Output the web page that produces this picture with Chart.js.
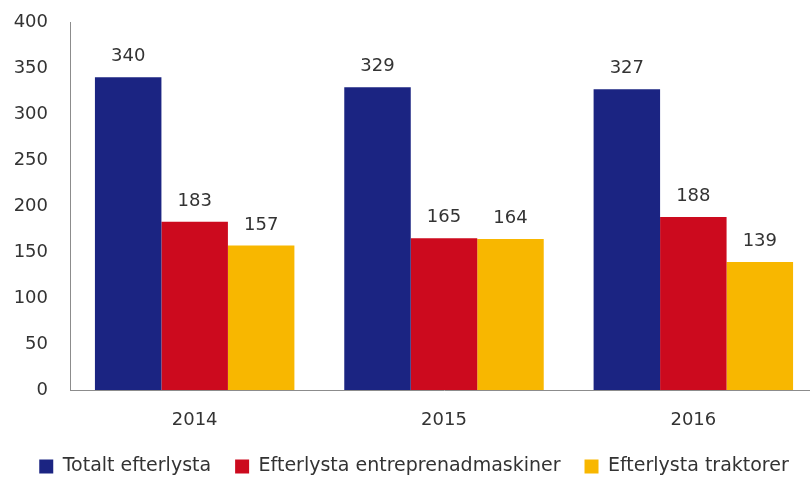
<!DOCTYPE html>
<html>
<head>
<meta charset="utf-8">
<script src="https://cdn.jsdelivr.net/npm/chart.js@4/dist/chart.umd.min.js"></script>
<style>
html,body{margin:0;padding:0;background:#fff;overflow:hidden;width:810px;height:481px;}
canvas{display:block;}
</style>
</head>
<body>
<canvas id="c" width="830" height="481"></canvas>
<script>
const categories = ["2014", "2015", "2016"];
const seriesNames = ["Totalt efterlysta", "Efterlysta entreprenadmaskiner", "Efterlysta traktorer"];
const totalt = [340, 329, 327];
const entreprenad = [183, 165, 188];
const traktorer = [157, 164, 139];
const yTicks = [0, 50, 100, 150, 200, 250, 300, 350, 400];
const colors = ["#1b2482", "#cc0a1e", "#f8b700"];

const FONT = "'DejaVu Sans', Verdana, sans-serif";

const valueLabels = {
  id: 'valueLabels',
  afterDatasetsDraw(chart) {
    const ctx = chart.ctx;
    ctx.save();
    ctx.font = "18px " + FONT;
    ctx.fillStyle = "#333";
    ctx.textAlign = "center";
    ctx.textBaseline = "alphabetic";
    chart.data.datasets.forEach((ds, i) => {
      chart.getDatasetMeta(i).data.forEach((bar, j) => {
        ctx.fillText(String(ds.data[j]), bar.x, bar.y - 16);
      });
    });
    ctx.restore();
  }
};

new Chart(document.getElementById('c'), {
  type: 'bar',
  data: {
    labels: categories,
    datasets: [
      { label: seriesNames[0], data: totalt, backgroundColor: colors[0] },
      { label: seriesNames[1], data: entreprenad, backgroundColor: colors[1] },
      { label: seriesNames[2], data: traktorer, backgroundColor: colors[2] }
    ]
  },
  options: {
    responsive: false,
    animation: false,
    devicePixelRatio: 1,
    layout: { padding: { top: 22, left: 10, right: 12, bottom: -5 } },
    datasets: { bar: { categoryPercentage: 0.8, barPercentage: 1.0 } },
    scales: {
      x: {
        afterFit: (s) => { s.height = 43; },
        grid: { display: false, drawTicks: false },
        border: { display: true, color: '#8c8c8c', width: 1 },
        ticks: { color: '#333', font: { family: FONT, size: 18 }, padding: 20 }
      },
      y: {
        min: 0, max: 400,
        afterBuildTicks: (s) => { s.ticks = yTicks.map(v => ({ value: v })); },
        afterFit: (s) => { s.width = 60; s.paddingTop = 0; s.paddingBottom = 0; },
        grid: { display: false, drawTicks: false },
        border: { display: true, color: '#8c8c8c', width: 1 },
        ticks: { color: '#333', font: { family: FONT, size: 18 }, padding: 22 }
      }
    },
    plugins: {
      legend: {
        position: 'bottom',
        labels: {
          color: '#333',
          font: { family: FONT, size: 19 },
          boxWidth: 14, boxHeight: 14,
          padding: 24
        }
      },
      tooltip: { enabled: false }
    }
  },
  plugins: [valueLabels]
});
</script>
</body>
</html>
